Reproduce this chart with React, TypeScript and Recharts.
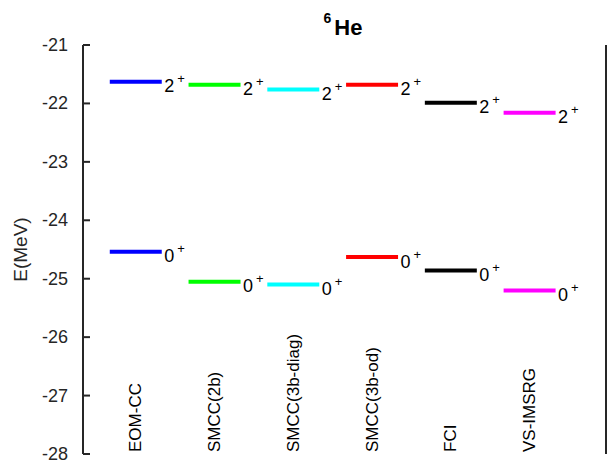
import React from "react"
import {
  ComposedChart,
  LabelList,
  Line,
  Scatter,
  XAxis,
  YAxis,
} from "recharts"

// methods, left to right
const methods = [
  "EOM-CC",
  "SMCC(2b)",
  "SMCC(3b-diag)",
  "SMCC(3b-od)",
  "FCI",
  "VS-IMSRG",
]
const colors = ["#0000ff", "#00ff00", "#00ffff", "#ff0000", "#000000", "#ff00ff"]

// energies in MeV
const excited2 = [-21.63, -21.68, -21.76, -21.68, -21.99, -22.16]
const ground0 = [-24.54, -25.05, -25.1, -24.63, -24.86, -25.2]

const yTicks = [-21, -22, -23, -24, -25, -26, -27, -28]
const xDomain = [0.33, 6.97]
const LEVEL_HALF = 0.33

const AXIS = "#262626"
const FONT = "'Liberation Sans', Arial, Helvetica, sans-serif"

const levels = [
  ...excited2.map((e, i) => ({ i, e, spin: "2" })),
  ...ground0.map((e, i) => ({ i, e, spin: "0" })),
]

const categoryData = methods.map((name, i) => ({ x: i + 1, e: -28, name }))

const LeftTick = (props: any) => {
  const { x, y, payload } = props
  return (
    <g>
      <line x1={x + 15} x2={x + 22} y1={y} y2={y} stroke={AXIS} strokeWidth={2} />
      <text
        x={x}
        y={y}
        textAnchor="end"
        dominantBaseline="central"
        fontSize={18}
        fill={AXIS}
      >
        {payload.value}
      </text>
    </g>
  )
}

const RightTick = (props: any) => {
  const { x, y } = props
  return <line x1={x - 7} x2={x} y1={y} y2={y} stroke={AXIS} strokeWidth={2} />
}

const levelLabel = (spin: string) => (props: any) => {
  const { x, y, index } = props
  if (index !== 1) return null
  return (
    <text x={x + 2.5} y={y + 10.5} fontSize={18} fill="#000">
      {spin}
      <tspan fontSize={13} dx={3} dy={-9}>
        +
      </tspan>
    </text>
  )
}

const CategoryLabel = (props: any) => {
  const { cx, cy, payload } = props
  return (
    <text
      transform={`translate(${cx}, ${cy - 2}) rotate(-90)`}
      textAnchor="start"
      dominantBaseline="central"
      fontSize={17}
      fill="#000"
    >
      {payload.name}
    </text>
  )
}

export default function App() {
  return (
    <div style={{ position: "absolute", left: 0, top: 0, width: 608, height: 463, fontFamily: FONT }}>
      <ComposedChart
        width={608}
        height={463}
        margin={{ top: 45, right: 0, bottom: 9, left: 0 }}
      >
        <XAxis
          dataKey="x"
          type="number"
          domain={xDomain}
          allowDataOverflow
          hide
        />
        <YAxis
          yAxisId="left"
          type="number"
          domain={[-28, -21]}
          ticks={yTicks}
          interval={0}
          width={83}
          tickSize={0}
          tickMargin={15}
          tickLine={false}
          axisLine={{ stroke: AXIS, strokeWidth: 2 }}
          tick={(p: any) => <LeftTick {...p} />}
          label={{
            content: (p: any) => {
              const vb = p.viewBox
              return (
                <text
                  transform={`translate(20, ${vb.y + vb.height / 2}) rotate(-90)`}
                  textAnchor="middle"
                  dominantBaseline="central"
                  fontSize={19}
                  fill={AXIS}
                >
                  E(MeV)
                </text>
              )
            },
          }}
        />
        <YAxis
          yAxisId="right"
          orientation="right"
          type="number"
          domain={[-28, -21]}
          ticks={yTicks}
          interval={0}
          width={2}
          tickSize={0}
          tickMargin={0}
          tickLine={false}
          axisLine={{ stroke: AXIS, strokeWidth: 2 }}
          tick={(p: any) => <RightTick {...p} />}
        />
        {levels.map((lv, k) => (
          <Line
            key={k}
            yAxisId="left"
            data={[
              { x: lv.i + 1 - LEVEL_HALF, e: lv.e },
              { x: lv.i + 1 + LEVEL_HALF, e: lv.e },
            ]}
            dataKey="e"
            stroke={colors[lv.i]}
            strokeWidth={4}
            strokeLinecap="butt"
            dot={false}
            activeDot={false}
            isAnimationActive={false}
          >
            <LabelList dataKey="e" content={levelLabel(lv.spin)} />
          </Line>
        ))}
        <Scatter
          yAxisId="left"
          data={categoryData}
          dataKey="e"
          shape={(p: any) => <CategoryLabel {...p} />}
          isAnimationActive={false}
        />
      </ComposedChart>
      <svg
        width={608}
        height={463}
        style={{ position: "absolute", left: 0, top: 0, pointerEvents: "none" }}
      >
        <text x={343} y={35} textAnchor="middle" fontWeight="bold" fill="#000">
          <tspan fontSize={14} dy={-12}>
            6
          </tspan>
          <tspan fontSize={22} dx={3} dy={12}>
            He
          </tspan>
        </text>
      </svg>
    </div>
  )
}
